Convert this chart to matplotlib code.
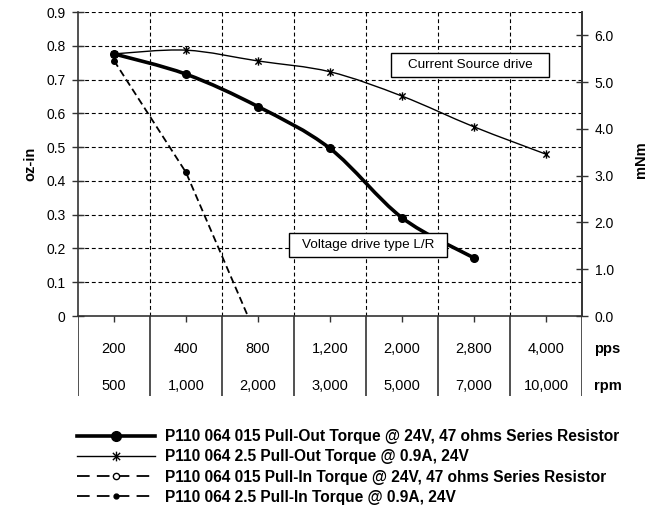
import numpy as np
import matplotlib
matplotlib.use("Agg")
import matplotlib.pyplot as plt
from matplotlib.path import Path
from matplotlib.patches import PathPatch, Rectangle
from matplotlib.lines import Line2D

plt.rcParams["font.family"] = ["Liberation Sans", "DejaVu Sans"]
plt.rcParams["font.size"] = 10

# data (oz-in), one value per speed column
pps_labels = ["200", "400", "800", "1,200", "2,000", "2,800", "4,000"]
rpm_labels = ["500", "1,000", "2,000", "3,000", "5,000", "7,000", "10,000"]

pull_out_015 = [0.776, 0.716, 0.620, 0.496, 0.291, 0.172, np.nan]
pull_out_25 = [0.776, 0.787, 0.755, 0.723, 0.651, 0.560, 0.479]
pull_in_015 = [np.nan] * 7
pull_in_25 = [0.756, 0.425, -0.07, np.nan, np.nan, np.nan, np.nan]

legend_labels = [
    "P110 064 015 Pull-Out Torque @ 24V, 47 ohms Series Resistor",
    "P110 064 2.5 Pull-Out Torque @ 0.9A, 24V",
    "P110 064 015 Pull-In Torque @ 24V, 47 ohms Series Resistor",
    "P110 064 2.5 Pull-In Torque @ 0.9A, 24V",
]

star = Path([(0, -1), (0, 1), (-0.75, -0.75), (0.75, 0.75), (-0.75, 0.75), (0.75, -0.75)],
            [Path.MOVETO, Path.LINETO, Path.MOVETO, Path.LINETO, Path.MOVETO, Path.LINETO])
dash = (0, (4, 2.2))


def smooth_path(xs, ys):
    # Excel-like smoothed line: cubic bezier through the points
    pts = np.column_stack([xs, ys])
    verts = [pts[0]]
    codes = [Path.MOVETO]
    n = len(pts)
    for i in range(n - 1):
        p0 = pts[max(i - 1, 0)]
        p1 = pts[i]
        p2 = pts[i + 1]
        p3 = pts[min(i + 2, n - 1)]
        verts += [p1 + (p2 - p0) / 6, p2 - (p3 - p1) / 6, p2]
        codes += [Path.CURVE4] * 3
    return Path(verts, codes)


def valid(vals):
    x = np.arange(len(vals))
    y = np.asarray(vals, dtype=float)
    m = ~np.isnan(y)
    return x[m], y[m]


fig = plt.figure(figsize=(6.6, 5.08), dpi=100)
ax = fig.add_axes([78 / 660, 1 - 316 / 508, 504 / 660, 304 / 508])
tab = fig.add_axes([78 / 660, 1 - 396 / 508, 504 / 660, 80 / 508], sharex=ax)

ncat = len(pps_labels)
ax.set_xlim(-0.5, ncat - 0.5)
ax.set_ylim(0, 0.9)

# grid
for b in np.arange(0.5, ncat - 0.5):
    ax.axvline(b, color="black", lw=0.8, ls=(0, (3.5, 2.5)), zorder=1)
for v in np.arange(0.1, 0.95, 0.1):
    ax.axhline(v, color="black", lw=0.8, ls=(0, (3.5, 2.5)), zorder=1)

# curves
x, y = valid(pull_out_015)
ax.add_patch(PathPatch(smooth_path(x, y), fill=False, lw=2.6, ec="black", zorder=3))
ax.plot(x, y, ls="none", marker="o", ms=5.5, color="black", zorder=4)

x, y = valid(pull_out_25)
ax.add_patch(PathPatch(smooth_path(x, y), fill=False, lw=1.0, ec="black", zorder=3))
ax.plot(x, y, ls="none", marker=star, ms=6, mew=1.0, color="black", zorder=4)

x, y = valid(pull_in_25)
ax.plot(x, y, ls=dash, lw=1.3, color="black", marker="o", ms=4, zorder=3)

x, y = valid(pull_in_015)
ax.plot(x, y, ls=dash, lw=1.3, color="black", marker="o", ms=4, mfc="white", zorder=3)

# axes styling
ax.spines["top"].set_visible(False)
for s in ["left", "bottom", "right"]:
    ax.spines[s].set_color("#333333")
    ax.spines[s].set_linewidth(1.2)
ax.set_yticks(np.arange(0, 0.95, 0.1))
ax.set_yticklabels(["0"] + [f"{v:.1f}" for v in np.arange(0.1, 0.95, 0.1)])
ax.tick_params(axis="y", direction="inout", length=8, width=1, color="#333333", pad=5)
ax.set_xticks(np.arange(ncat))
ax.tick_params(axis="x", direction="out", length=4, width=1, color="#333333", labelbottom=False)

axr = ax.twinx()
axr.set_ylim(0, 6.5)
axr.set_yticks(np.arange(0, 6.5, 1.0))
axr.set_yticklabels([f"{v:.1f}" for v in np.arange(0, 6.5, 1.0)])
axr.tick_params(axis="y", direction="inout", length=8, width=1, color="#333333", pad=5)
for s in ["top", "left", "bottom"]:
    axr.spines[s].set_visible(False)
axr.spines["right"].set_color("#333333")
axr.spines["right"].set_linewidth(1.2)

fig.text(30 / 660, 1 - 164 / 508, "oz-in", rotation=90, ha="center", va="center",
         fontsize=10.5, fontweight="bold")
fig.text(641 / 660, 1 - 160 / 508, "mNm", rotation=90, ha="center", va="center",
         fontsize=10.5, fontweight="bold")

# annotation boxes
for (x0, y0, w, h, txt) in [(0.621, 0.786, 0.3135, 0.079, "Current Source drive"),
                            (0.4187, 0.194, 0.3133, 0.079, "Voltage drive type L/R")]:
    ax.add_patch(Rectangle((x0, y0), w, h, transform=ax.transAxes, fc="white",
                           ec="black", lw=1.0, zorder=6))
    ax.text(x0 + w / 2, y0 + h / 2, txt, transform=ax.transAxes, ha="center",
            va="center", fontsize=9.7, zorder=7)

# data table under the axis
tab.set_ylim(0, 1)
for b in np.arange(-0.5, ncat):
    tab.axvline(b, color="#333333", lw=1.2)
for i in range(ncat):
    tab.text(i, 0.59, pps_labels[i], ha="center", va="center", fontsize=10.5)
    tab.text(i, 0.125, rpm_labels[i], ha="center", va="center", fontsize=10.5)
tab.text(ncat - 0.5 + 0.17, 0.59, "pps", ha="left", va="center", fontsize=10.5, fontweight="bold")
tab.text(ncat - 0.5 + 0.17, 0.125, "rpm", ha="left", va="center", fontsize=10.5, fontweight="bold")
tab.axis("off")

# legend
handles = [
    Line2D([], [], color="black", lw=2.6, marker="o", ms=7),
    Line2D([], [], color="black", lw=1.0, marker=star, ms=7, mew=1.0),
    Line2D([], [], color="black", lw=1.3, ls=(0, (7, 4)), marker="o", ms=4.5, mfc="white"),
    Line2D([], [], color="black", lw=1.3, ls=(0, (7, 4)), marker="o", ms=3.5),
]
fig.legend(handles, legend_labels, loc="upper left", bbox_to_anchor=(77 / 660, 1 - 429 / 508),
           frameon=False, handlelength=5.0, handletextpad=0.65, labelspacing=0.34,
           borderpad=0, borderaxespad=0, prop={"weight": "bold", "size": 11.2})

fig.savefig("out.png", dpi=100)
